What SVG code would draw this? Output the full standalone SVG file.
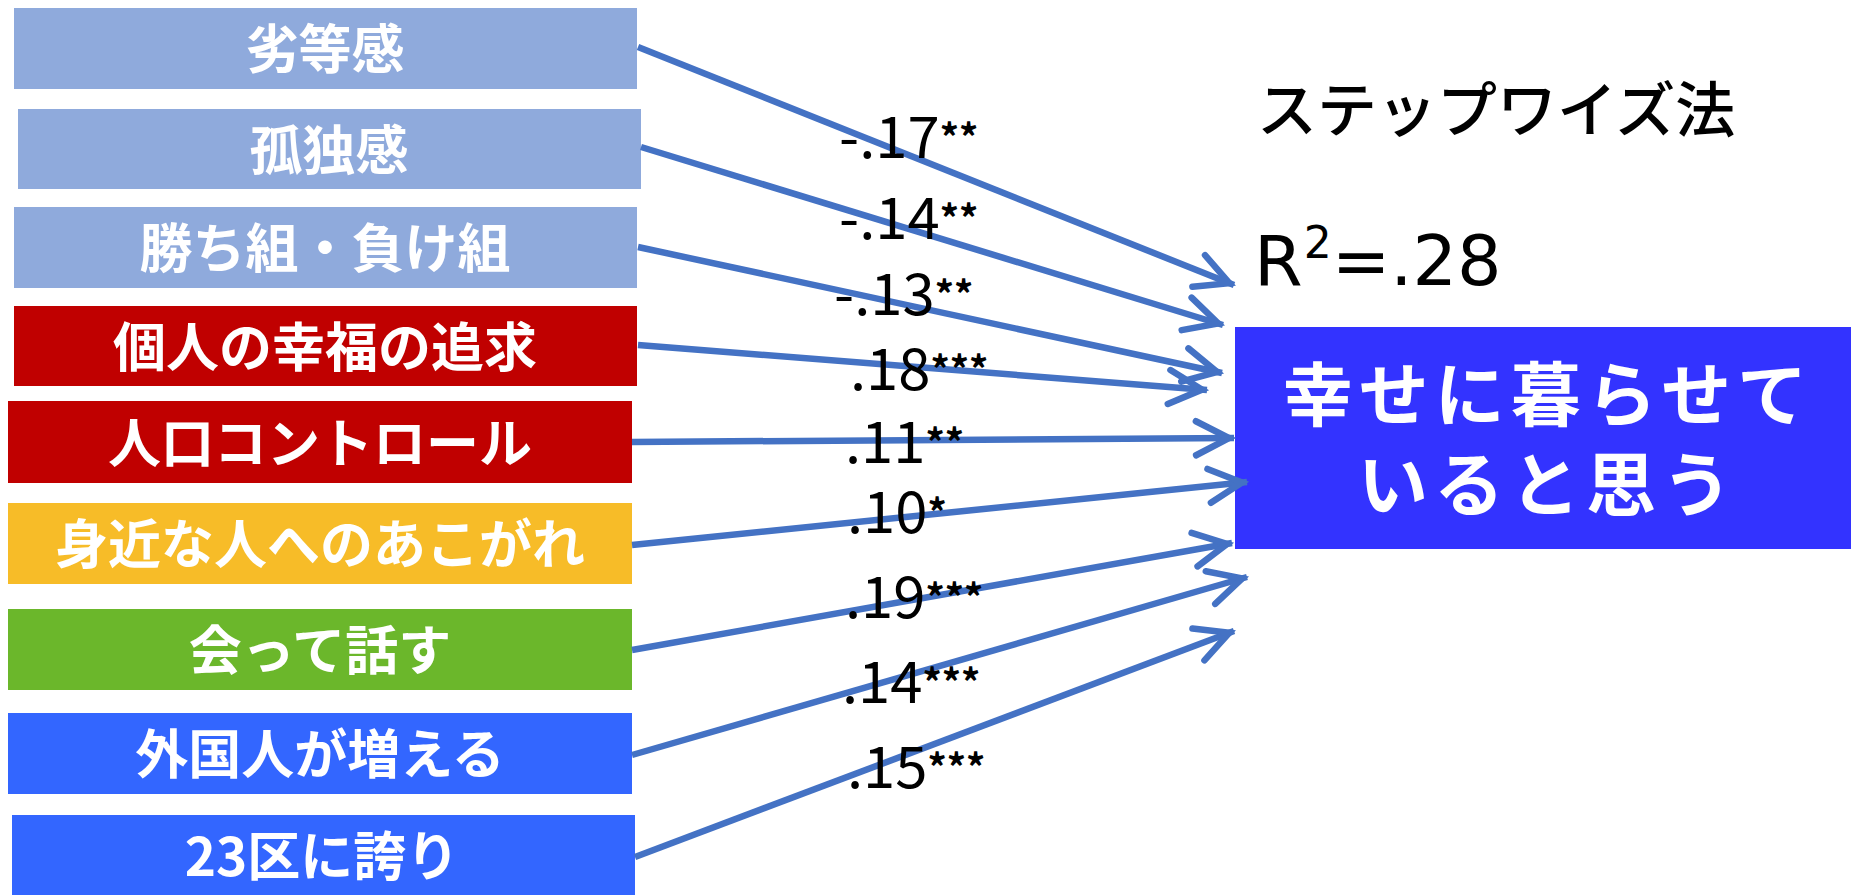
<svg xmlns="http://www.w3.org/2000/svg" width="1851" height="895" viewBox="0 0 1851 895">
<style>
.bt{font-family:"Noto Sans CJK JP","Noto Sans",sans-serif;font-weight:bold;font-size:53px;fill:#fff;text-anchor:middle;dominant-baseline:central}
.lb{font-family:"Noto Sans CJK JP","Noto Sans",sans-serif;font-size:58px;fill:#000}
.st{font-size:38px;font-weight:bold}
.hd{font-family:"Noto Sans CJK JP","Noto Sans",sans-serif;fill:#000}
.ar{stroke:#4472C4;stroke-width:6.5;fill:none;marker-end:url(#ah)}
.lblue{fill:#8FAADC}.red{fill:#C00000}.yel{fill:#F7BC28}.grn{fill:#6BB72B}.blu{fill:#3366FF}
</style>
<defs>
<marker id="ah" markerUnits="userSpaceOnUse" orient="auto" markerWidth="80" markerHeight="80" refX="0" refY="0" viewBox="-50 -40 60 80" overflow="visible">
<path d="M-38,-17 L-5,0 L-38,17" fill="none" stroke="#4472C4" stroke-width="6.5" stroke-linecap="round" stroke-linejoin="miter"/>
</marker>
</defs>
<rect width="1851" height="895" fill="#fff"/>
<g id="n1"><rect class="lblue" x="14" y="8" width="623" height="81"/><text class="bt" x="325" y="46">劣等感</text></g>
<g id="n2"><rect class="lblue" x="18" y="109" width="623" height="80"/><text class="bt" x="329" y="147">孤独感</text></g>
<g id="n3"><rect class="lblue" x="14" y="207" width="623" height="81"/><text class="bt" x="325" y="245">勝ち組・負け組</text></g>
<g id="n4"><rect class="red" x="14" y="306" width="623" height="80"/><text class="bt" x="325" y="344">個人の幸福の追求</text></g>
<g id="n5"><rect class="red" x="8" y="401" width="624" height="82"/><text class="bt" x="320" y="440">人口コントロール</text></g>
<g id="n6"><rect class="yel" x="8" y="503" width="624" height="81"/><text class="bt" x="320" y="541">身近な人へのあこがれ</text></g>
<g id="n7"><rect class="grn" x="8" y="609" width="624" height="81"/><text class="bt" x="320" y="647">会って話す</text></g>
<g id="n8"><rect class="blu" x="8" y="713" width="624" height="81"/><text class="bt" x="320" y="751">外国人が増える</text></g>
<g id="n9"><rect class="blu" x="12" y="815" width="623" height="80"/><text class="bt" x="322" y="853">23区に誇り</text></g>
<g id="target"><rect x="1235" y="327" width="616" height="222" fill="#3333FF"/>
<text class="bt" style="font-size:70px;letter-spacing:6px" x="1548" y="390">幸せに暮らせて</text>
<text class="bt" style="font-size:70px;letter-spacing:6px" x="1548" y="480">いると思う</text></g>
<g id="connectors">
<line class="ar" x1="638" y1="47" x2="1234" y2="285"/>
<line class="ar" x1="641" y1="147" x2="1223" y2="325"/>
<line class="ar" x1="638" y1="247" x2="1222" y2="373"/>
<line class="ar" x1="638" y1="345" x2="1207" y2="390"/>
<line class="ar" x1="632" y1="442" x2="1234" y2="438"/>
<line class="ar" x1="632" y1="545" x2="1247" y2="482"/>
<line class="ar" x1="632" y1="650" x2="1232" y2="543"/>
<line class="ar" x1="632" y1="755" x2="1247" y2="577"/>
<line class="ar" x1="635" y1="857" x2="1234" y2="631"/>
</g>
<g id="labels">
<text class="lb" x="839" y="158">-.17<tspan class="st" dy="-6">**</tspan></text>
<text class="lb" x="839" y="239">-.14<tspan class="st" dy="-6">**</tspan></text>
<text class="lb" x="834" y="315">-.13<tspan class="st" dy="-6">**</tspan></text>
<text class="lb" x="850" y="390">.18<tspan class="st" dy="-6">***</tspan></text>
<text class="lb" x="845" y="463">.11<tspan class="st" dy="-6">**</tspan></text>
<text class="lb" x="847" y="533">.10<tspan class="st" dy="-6">*</tspan></text>
<text class="lb" x="845" y="618">.19<tspan class="st" dy="-6">***</tspan></text>
<text class="lb" x="842" y="703">.14<tspan class="st" dy="-6">***</tspan></text>
<text class="lb" x="847" y="788">.15<tspan class="st" dy="-6">***</tspan></text>
</g>
<g id="header">
<text class="hd" x="1257" y="105" font-size="60" font-weight="500" dominant-baseline="central">ステップワイズ法</text>
<text x="1254" y="285" font-family="DejaVu Sans, sans-serif" font-size="70" fill="#000">R<tspan font-size="44" dx="1" dy="-27">2</tspan><tspan dy="27">=.28</tspan></text>
</g>
</svg>
